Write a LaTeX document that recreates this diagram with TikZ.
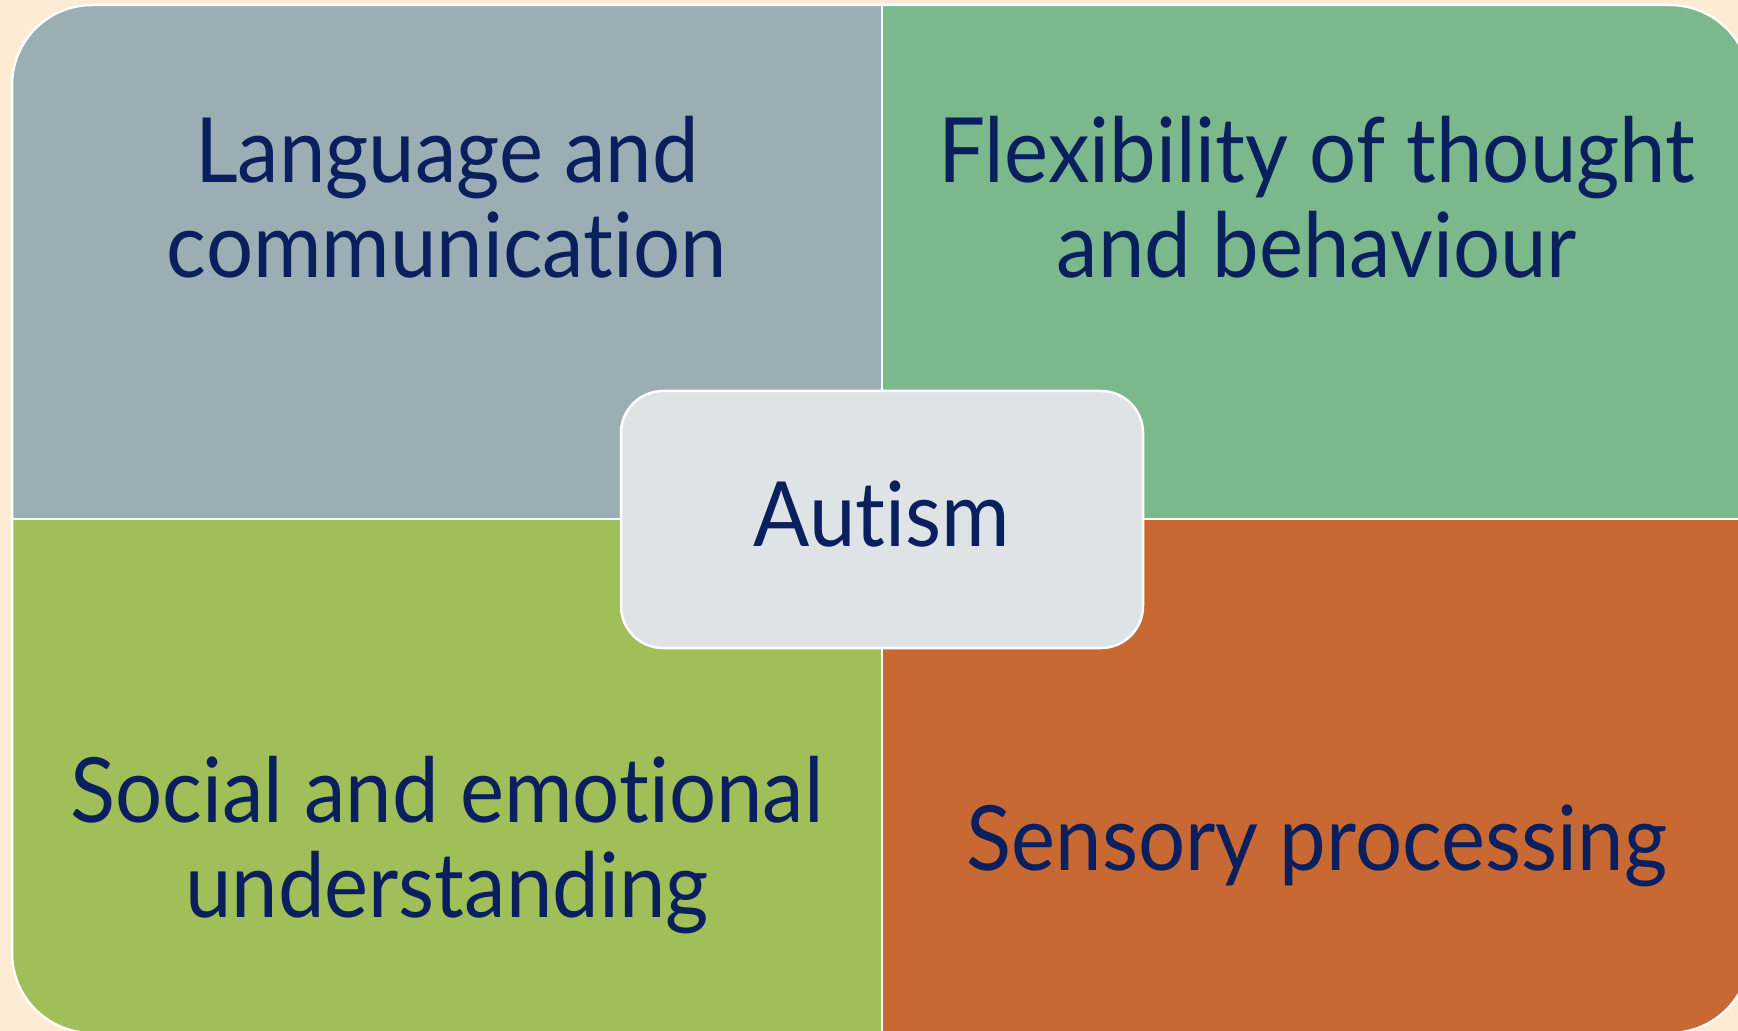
\documentclass[tikz,border=0pt]{standalone}
\usepackage{fontspec}
\setmainfont[FakeStretch=0.925, Ligatures=NoCommon]{Lato}
\definecolor{bgpeach}{HTML}{FDEBD3}
\definecolor{qgrey}{HTML}{9BAEB3}
\definecolor{qgreen}{HTML}{7BB88C}
\definecolor{qlime}{HTML}{A0BF58}
\definecolor{qorange}{HTML}{C86832}
\definecolor{cbox}{HTML}{DEE3E6}
\definecolor{navy}{HTML}{0A1F5E}
\tikzset{
  qtext/.style={text=navy, align=center, font=\fontsize{45}{47.5}\selectfont, inner sep=0pt},
  centerbox/.style={fill=cbox, draw=white, line width=1.25pt, rounded corners=21pt,
    minimum width=261pt, minimum height=128.5pt, text=navy, font=\fontsize{45}{47.5}\selectfont},
}
\begin{document}
\begin{tikzpicture}[x=0.5pt,y=-0.5pt]
\useasboundingbox (0,0) rectangle (1738,1031);
\clip (0,0) rectangle (1738,1031);
\fill[bgpeach] (0,0) rectangle (1738,1031);
\begin{scope}
  \clip (0,0) rectangle (881,519);
  \fill[qgrey, rounded corners=40pt] (12,5) rectangle (1750,1033);
\end{scope}
\begin{scope}
  \clip (881,0) rectangle (1760,519);
  \fill[qgreen, rounded corners=40pt] (12,5) rectangle (1750,1033);
\end{scope}
\begin{scope}
  \clip (0,519) rectangle (881,1040);
  \fill[qlime, rounded corners=40pt] (12,5) rectangle (1750,1033);
\end{scope}
\begin{scope}
  \clip (881,519) rectangle (1760,1040);
  \fill[qorange, rounded corners=40pt] (12,5) rectangle (1750,1033);
\end{scope}
\draw[white, line width=1.25pt, rounded corners=40pt] (12,5) rectangle (1750,1033);
\draw[white, line width=1.25pt] (882,5) -- (882,1033);
\draw[white, line width=1.25pt] (12,519) -- (1750,519);
\node[qtext] (lang) at (447,197) {Language and\\communication};
\node[qtext] (flex) at (1317,197) {Flexibility of thought\\and behaviour};
\node[qtext] (soc) at (447,845) {Social and emotional\\understanding};
\node[qtext, anchor=base] (sens) at (1317,870) {Sensory processing};
\node[centerbox] (autism) at (882,519.5) {};
\node[text=navy, font=\fontsize{45}{47.5}\selectfont, anchor=base, inner sep=0pt] (autlabel) at (882,546) {Autism};
\end{tikzpicture}
\end{document}
